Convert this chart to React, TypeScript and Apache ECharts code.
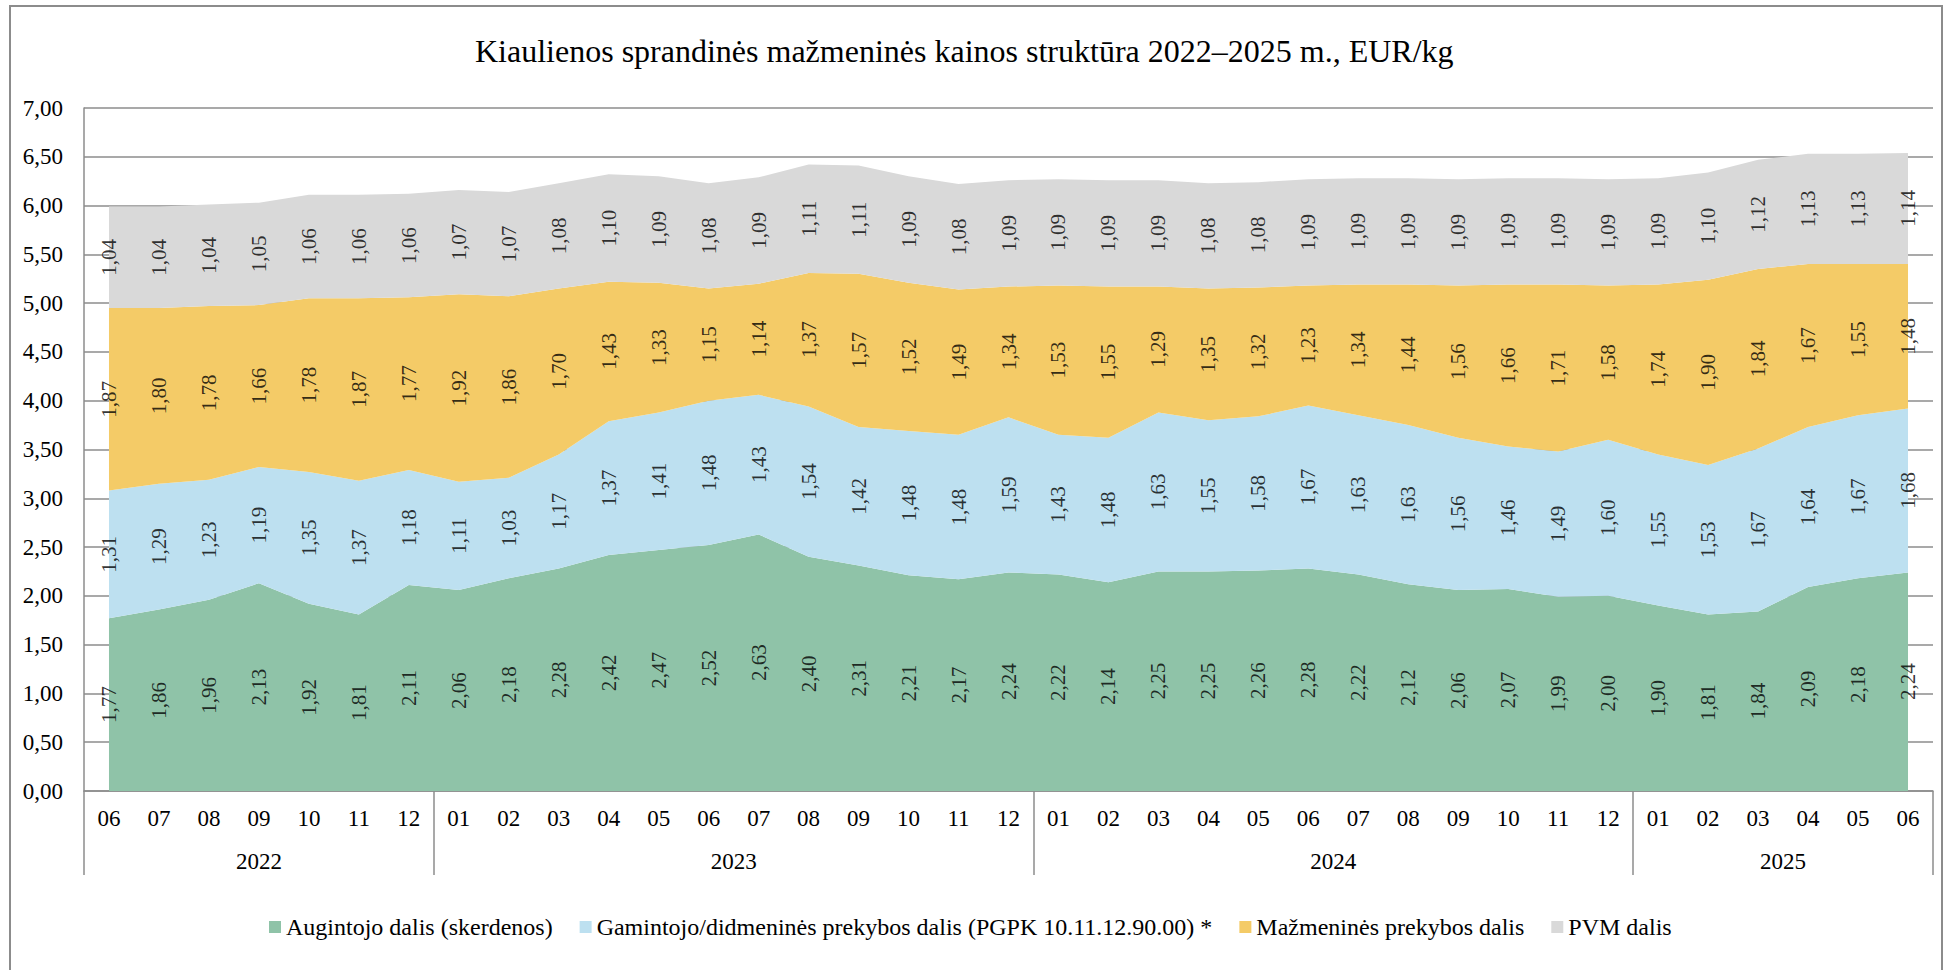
import React, { useEffect, useRef } from 'react';
import * as echarts from 'echarts';

const months = [
  '06', '07', '08', '09', '10', '11', '12',
  '01', '02', '03', '04', '05', '06', '07', '08', '09', '10', '11', '12',
  '01', '02', '03', '04', '05', '06', '07', '08', '09', '10', '11', '12',
  '01', '02', '03', '04', '05', '06',
];
const yearLabels = ['2022', '2023', '2024', '2025'];
const yearMonthCounts = [7, 12, 12, 6];

const grower = [
  1.77, 1.86, 1.96, 2.13, 1.92, 1.81, 2.11,
  2.06, 2.18, 2.28, 2.42, 2.47, 2.52, 2.63, 2.40, 2.31, 2.21, 2.17, 2.24,
  2.22, 2.14, 2.25, 2.25, 2.26, 2.28, 2.22, 2.12, 2.06, 2.07, 1.99, 2.00,
  1.90, 1.81, 1.84, 2.09, 2.18, 2.24,
];
const producer = [
  1.31, 1.29, 1.23, 1.19, 1.35, 1.37, 1.18,
  1.11, 1.03, 1.17, 1.37, 1.41, 1.48, 1.43, 1.54, 1.42, 1.48, 1.48, 1.59,
  1.43, 1.48, 1.63, 1.55, 1.58, 1.67, 1.63, 1.63, 1.56, 1.46, 1.49, 1.60,
  1.55, 1.53, 1.67, 1.64, 1.67, 1.68,
];
const retail = [
  1.87, 1.80, 1.78, 1.66, 1.78, 1.87, 1.77,
  1.92, 1.86, 1.70, 1.43, 1.33, 1.15, 1.14, 1.37, 1.57, 1.52, 1.49, 1.34,
  1.53, 1.55, 1.29, 1.35, 1.32, 1.23, 1.34, 1.44, 1.56, 1.66, 1.71, 1.58,
  1.74, 1.90, 1.84, 1.67, 1.55, 1.48,
];
const vat = [
  1.04, 1.04, 1.04, 1.05, 1.06, 1.06, 1.06,
  1.07, 1.07, 1.08, 1.10, 1.09, 1.08, 1.09, 1.11, 1.11, 1.09, 1.08, 1.09,
  1.09, 1.09, 1.09, 1.08, 1.08, 1.09, 1.09, 1.09, 1.09, 1.09, 1.09, 1.09,
  1.09, 1.10, 1.12, 1.13, 1.13, 1.14,
];

const seriesNames = [
  'Augintojo dalis (skerdenos)',
  'Gamintojo/didmeninės prekybos dalis (PGPK 10.11.12.90.00) *',
  'Mažmeninės prekybos dalis',
  'PVM dalis',
];
const seriesValues = [grower, producer, retail, vat];
const seriesColors = ['#8FC3A8', '#BDE0F0', '#F4CB67', '#D9D9D9'];

const titleText = 'Kiaulienos sprandinės mažmeninės kainos struktūra 2022–2025 m., EUR/kg';

const FONT = "'Liberation Serif', 'Times New Roman', serif";
const LINE = '#8c8c8c';

const fmt = (v: number) => v.toFixed(2).replace('.', ',');

export default function App() {
  const ref = useRef<HTMLDivElement>(null);

  useEffect(() => {
    document.body.style.margin = '0';
    if (!ref.current) return;
    const chart = echarts.init(ref.current, undefined, { renderer: 'svg' });

    // year axis: edges of half-month slots
    const edgeCount = months.length * 2 + 1;
    const yearAxisData: string[] = new Array(edgeCount).fill('');
    const separators = new Set<number>();
    let start = 0;
    yearMonthCounts.forEach((c, gi) => {
      separators.add(2 * start);
      yearAxisData[2 * start + c] = yearLabels[gi];
      start += c;
    });
    separators.add(2 * start);

    const areaSeries = seriesValues.map((vals, si) => ({
      name: seriesNames[si],
      type: 'line',
      stack: 'total',
      data: vals,
      xAxisIndex: 0,
      yAxisIndex: 0,
      symbol: 'none',
      lineStyle: { width: 0 },
      areaStyle: { color: seriesColors[si], opacity: 1 },
      itemStyle: { color: seriesColors[si] },
      silent: true,
      z: 2,
    }));

    const labelSeries = seriesValues.map((vals, si) => ({
      name: 'lbl' + si,
      type: 'scatter',
      xAxisIndex: 0,
      yAxisIndex: 0,
      symbolSize: 0.1,
      itemStyle: { color: 'transparent' },
      silent: true,
      z: 5,
      data: vals.map((v, i) => {
        let base = 0;
        for (let k = 0; k < si; k++) base += seriesValues[k][i];
        return [i, base + v / 2, v];
      }),
      label: {
        show: true,
        position: 'inside',
        rotate: 90,
        fontSize: 21,
        fontFamily: FONT,
        color: '#000',
        formatter: (p: any) => fmt(p.value[2]),
      },
    }));

    chart.setOption({
      animation: false,
      backgroundColor: '#fff',
      title: {
        text: titleText,
        left: 470,
        top: 30,
        textStyle: { fontSize: 32, fontWeight: 'normal', fontFamily: FONT, color: '#000' },
      },
      legend: {
        data: seriesNames,
        left: 264,
        top: 910,
        icon: 'rect',
        itemWidth: 12,
        itemHeight: 12,
        itemGap: 27,
        textStyle: { fontSize: 24, fontFamily: FONT, color: '#000' },
        selectedMode: false,
      },
      grid: { left: 84, right: 15, top: 108, bottom: 179, containLabel: false },
      xAxis: [
        {
          type: 'category',
          data: months,
          boundaryGap: true,
          axisLine: { show: true, lineStyle: { color: LINE, width: 1.5 } },
          axisTick: { show: false },
          axisLabel: { interval: 0, margin: 16, fontSize: 23, fontFamily: FONT, color: '#000' },
          splitLine: { show: false },
        },
        {
          type: 'category',
          data: yearAxisData,
          boundaryGap: false,
          position: 'bottom',
          axisLine: { show: false },
          axisTick: {
            show: true,
            length: 84,
            interval: (i: number) => separators.has(i),
            lineStyle: { color: LINE, width: 1.5 },
          },
          axisLabel: { interval: 0, margin: 59, fontSize: 23, fontFamily: FONT, color: '#000' },
          splitLine: { show: false },
        },
      ],
      yAxis: {
        type: 'value',
        min: 0,
        max: 7,
        interval: 0.5,
        axisLine: { show: true, lineStyle: { color: LINE, width: 1.5 } },
        axisTick: { show: false },
        axisLabel: { margin: 21, fontSize: 23, fontFamily: FONT, color: '#000', formatter: (v: number) => fmt(v) },
        splitLine: { show: true, lineStyle: { color: LINE, width: 1.5 } },
      },
      graphic: [
        {
          type: 'rect',
          shape: { x: 10, y: 6, width: 1932, height: 1000 },
          style: { fill: 'none', stroke: LINE, lineWidth: 2 },
          silent: true,
        },
      ],
      series: [...areaSeries, ...labelSeries],
    });

    return () => chart.dispose();
  }, []);

  return <div ref={ref} style={{ width: 1948, height: 970 }} />;
}
